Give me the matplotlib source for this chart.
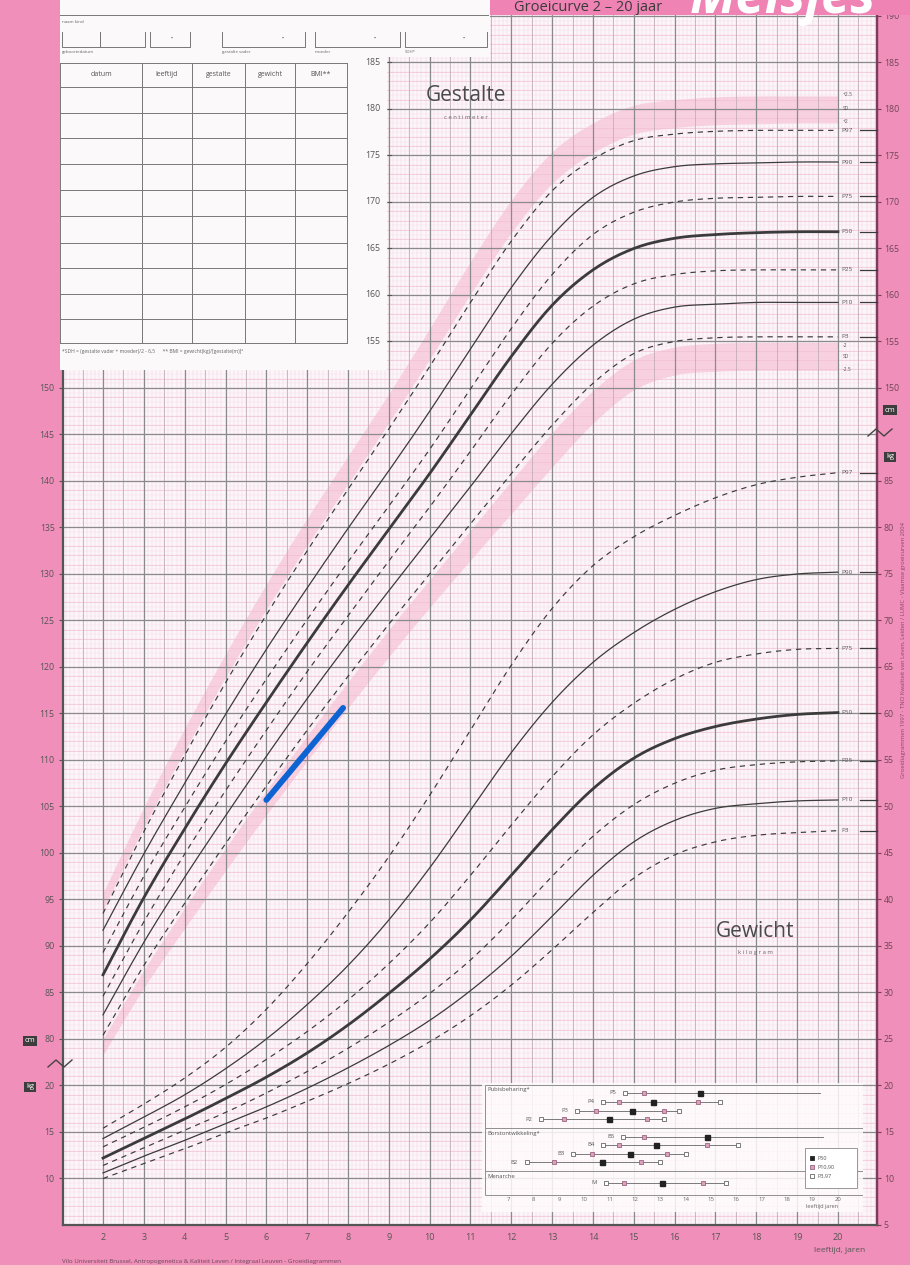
import numpy as np
import matplotlib.pyplot as plt
from matplotlib.patches import Rectangle
from matplotlib.lines import Line2D

plt.rcParams['font.family'] = ['Open Sans', 'DejaVu Sans']

leeftijd = [2, 3, 4, 5, 6, 7, 8, 9, 10, 11, 12, 13, 14, 15, 16, 17, 18, 19, 20]

# gestalte (cm)
h_p97 = [93.5, 102.3, 110.5, 118.3, 125.6, 132.5, 139.1, 145.6, 152.3, 159.2, 165.8, 171.2, 174.6, 176.6, 177.3, 177.6, 177.7, 177.7, 177.7]
h_p90 = [91.7, 99.9, 107.5, 114.9, 121.9, 128.5, 134.9, 141.1, 147.5, 154.2, 160.8, 166.4, 170.5, 172.8, 173.8, 174.1, 174.2, 174.3, 174.3]
h_p75 = [89.3, 97.5, 104.9, 112.0, 118.7, 125.1, 131.3, 137.3, 143.4, 149.9, 156.4, 162.2, 166.5, 168.9, 170.0, 170.4, 170.5, 170.6, 170.6]
h_p50 = [86.9, 95.2, 102.6, 109.6, 116.2, 122.6, 128.8, 134.8, 140.8, 147.1, 153.4, 158.9, 162.7, 165.0, 166.1, 166.5, 166.7, 166.8, 166.8]
h_p25 = [84.6, 92.6, 99.9, 106.7, 113.2, 119.5, 125.5, 131.4, 137.2, 143.2, 149.3, 154.8, 158.8, 161.2, 162.2, 162.6, 162.7, 162.7, 162.7]
h_p10 = [82.6, 90.4, 97.4, 104.0, 110.4, 116.6, 122.5, 128.2, 133.8, 139.4, 145.1, 150.4, 154.6, 157.4, 158.7, 159.0, 159.2, 159.2, 159.2]
h_p3 = [80.4, 87.9, 94.6, 101.0, 107.2, 113.2, 119.0, 124.6, 130.0, 135.4, 140.8, 146.0, 150.5, 153.7, 155.0, 155.4, 155.5, 155.5, 155.5]

# roze banden (+2..+2.5 SD en -2..-2.5 SD)
band_hoog_onder = [93.9, 102.8, 111.0, 118.9, 126.2, 133.1, 139.7, 146.3, 153.1, 160.1, 166.7, 172.0, 175.3, 177.3, 178.0, 178.3, 178.4, 178.5, 178.5]
band_hoog_boven = [95.7, 104.9, 113.4, 121.4, 128.9, 136.0, 142.7, 149.4, 156.4, 163.6, 170.2, 175.4, 178.5, 180.4, 181.0, 181.3, 181.4, 181.4, 181.4]
band_laag_boven = [80.0, 87.4, 94.1, 100.5, 106.7, 112.6, 118.4, 124.0, 129.4, 134.7, 140.0, 145.2, 149.7, 153.0, 154.4, 154.8, 154.9, 154.9, 154.9]
band_laag_onder = [78.3, 85.5, 91.9, 98.1, 104.1, 109.9, 115.6, 121.1, 126.4, 131.5, 136.5, 141.5, 146.2, 149.8, 151.4, 151.8, 151.9, 151.9, 151.9]

# gewicht (kg)
w_p97 = [15.4, 18.0, 20.8, 24.1, 28.2, 33.1, 38.6, 44.6, 51.2, 58.2, 65.2, 71.3, 75.9, 79.0, 81.3, 83.2, 84.6, 85.4, 85.9]
w_p90 = [14.3, 16.6, 19.0, 21.8, 25.0, 28.7, 32.9, 37.8, 43.4, 49.6, 55.8, 61.2, 65.5, 68.7, 71.2, 73.1, 74.4, 75.0, 75.2]
w_p75 = [13.4, 15.5, 17.7, 20.1, 22.8, 25.8, 29.2, 33.1, 37.5, 42.6, 48.0, 53.2, 57.7, 61.1, 63.7, 65.5, 66.4, 66.9, 67.0]
w_p50 = [12.2, 14.3, 16.4, 18.6, 20.9, 23.5, 26.5, 29.9, 33.6, 37.8, 42.6, 47.5, 51.9, 55.2, 57.3, 58.6, 59.4, 59.9, 60.1]
w_p25 = [11.4, 13.3, 15.2, 17.1, 19.2, 21.5, 24.0, 26.8, 29.9, 33.5, 37.8, 42.5, 46.8, 50.2, 52.5, 53.9, 54.5, 54.8, 54.9]
w_p10 = [10.6, 12.4, 14.1, 15.9, 17.7, 19.7, 21.9, 24.3, 27.0, 30.2, 33.9, 38.2, 42.6, 46.2, 48.5, 49.8, 50.3, 50.6, 50.7]
w_p3 = [10.0, 11.6, 13.2, 14.9, 16.5, 18.3, 20.2, 22.3, 24.7, 27.5, 30.8, 34.6, 38.6, 42.3, 44.8, 46.2, 46.9, 47.2, 47.4]

# ingetekende meting (blauw)
blauw_leeftijd = [6.0, 7.88]
blauw_lengte = [105.7, 115.6]

# puberteitsstadia (leeftijd bij P3, P10, P50, P90, P97)
pubis_naam = ['P5', 'P4', 'P3', 'P2']
pubis_p3 = [11.6, 10.75, 9.7, 8.28]
pubis_p10 = [12.35, 11.37, 10.46, 9.2]
pubis_p50 = [14.56, 12.72, 11.9, 10.96]
pubis_p90 = [np.nan, 14.47, 13.14, 12.46]
pubis_p97 = [np.nan, 15.35, 13.74, 13.14]
pubis_eind = [19.3, 15.35, 13.74, 13.14]

borst_naam = ['B5', 'B4', 'B3', 'B2']
borst_p3 = [11.54, 10.75, 9.57, 7.73]
borst_p10 = [12.36, 11.37, 10.29, 8.82]
borst_p50 = [14.83, 12.83, 11.8, 10.69]
borst_p90 = [np.nan, 14.83, 13.25, 12.24]
borst_p97 = [np.nan, 16.08, 14.0, 12.99]
borst_eind = [19.4, 16.08, 14.0, 12.99]

men_p3, men_p10, men_p50, men_p90, men_p97 = 10.84, 11.57, 13.05, 14.67, 15.6

GEW = 55  # kg worden op de cm-schaal getekend met deze verschuiving

W, H = 910, 1265
ROZE = '#f08fb9'
LIJN = '#3b3b3b'
GRIJS = '#555555'


def fx(x):
    return x / W


def fy(y):
    return 1 - y / H


def glad(x, y, n=12):
    x = np.asarray(x, float)
    y = np.asarray(y, float)
    def cr(p):
        p = np.concatenate([[2 * p[0] - p[1]], p, [2 * p[-1] - p[-2]]])
        t = np.linspace(0, 1, n, endpoint=False)[:, None]
        p0, p1, p2, p3 = p[:-3], p[1:-2], p[2:-1], p[3:]
        v = 0.5 * (2 * p1 + (-p0 + p2) * t + (2 * p0 - 5 * p1 + 4 * p2 - p3) * t ** 2
                   + (-p0 + 3 * p1 - 3 * p2 + p3) * t ** 3)
        return np.append(v.T.ravel(), p[-2])
    return cr(x), cr(y)


fig = plt.figure(figsize=(W / 100, H / 100), dpi=100, facecolor=ROZE)
ax = fig.add_axes([fx(63), fy(1225), fx(877) - fx(63), fy(0) - fy(1225)])
ax.set_facecolor('#fbf6f9')
X0, X1, Y0, Y1 = 1.02, 20.956, 60.0, 191.72

# ---- raster ----
ax.vlines(np.arange(1.1, 20.95, 0.1), Y0, Y1, color='#f6d0de', lw=0.35, zorder=0.3)
ax.hlines(np.arange(60.5, 191.7, 0.5), X0, X1, color='#f8dde7', lw=0.3, zorder=0.3)
ax.hlines(np.arange(61, 192, 1.0), X0, X1, color='#f1bdd0', lw=0.45, zorder=0.35)
ax.vlines(np.arange(1.5, 20.6, 1.0), Y0, Y1, color='#bfaab4', lw=0.55, zorder=0.4)
ax.vlines(leeftijd, Y0, Y1, color='#8a8a8a', lw=0.9, zorder=0.5)
ax.hlines(np.arange(65, 191, 5), X0, X1, color='#8a8a8a', lw=0.9, zorder=0.5)

# ---- roze banden ----
bx, b1 = glad(leeftijd, band_hoog_onder)
_, b2 = glad(leeftijd, band_hoog_boven)
ax.fill_between(bx, b1, b2, color='#f8cfdf', lw=0, zorder=0.2)
_, b3 = glad(leeftijd, band_laag_onder)
_, b4 = glad(leeftijd, band_laag_boven)
ax.fill_between(bx, b3, b4, color='#f8cfdf', lw=0, zorder=0.2)


def curve(vals, soort, label, offset=0):
    x, y = glad(leeftijd, np.asarray(vals) + offset)
    if soort == 'dik':
        ax.plot(x, y, color=LIJN, lw=2.0, zorder=3)
    elif soort == 'streep':
        ax.plot(x, y, color=LIJN, lw=0.85, ls=(0, (4.5, 4)), zorder=3)
    else:
        ax.plot(x, y, color=LIJN, lw=0.9, zorder=3)
    yend = vals[-1] + offset
    ax.text(20.08, yend, label, fontsize=4.6, color=GRIJS, va='center', ha='left', zorder=4)
    ax.plot([20.55, X1], [yend, yend], color=LIJN, lw=0.9, zorder=4, clip_on=False)


for vals, soort, lab in [(h_p97, 'streep', 'P97'), (h_p90, 'dun', 'P90'), (h_p75, 'streep', 'P75'),
                         (h_p50, 'dik', 'P50'), (h_p25, 'streep', 'P25'), (h_p10, 'dun', 'P10'),
                         (h_p3, 'streep', 'P3')]:
    curve(vals, soort, lab)

for vals, soort, lab in [(w_p97, 'streep', 'P97'), (w_p90, 'dun', 'P90'), (w_p75, 'streep', 'P75'),
                         (w_p50, 'dik', 'P50'), (w_p25, 'streep', 'P25'), (w_p10, 'dun', 'P10'),
                         (w_p3, 'streep', 'P3')]:
    curve(vals, soort, lab, offset=GEW)

for s, yv in [('+2.5', 181.6), ('SD', 180.1), ('+2', 178.7), ('-2', 154.6), ('SD', 153.4), ('-2.5', 152.0)]:
    ax.text(20.12, yv, s, fontsize=3.6, color=GRIJS, va='center', ha='left', zorder=4)

ax.plot(blauw_leeftijd, blauw_lengte, color='#0d63d2', lw=4.2, solid_capstyle='round', zorder=8)

# ---- assen ----
ax.set_xlim(X0, X1)
ax.set_ylim(Y0, Y1)
ax.set_xticks(leeftijd, [str(a) for a in leeftijd])
ax.tick_params(axis='x', length=0, pad=6, labelsize=6.5, labelcolor=GRIJS)
links_pos = [k + GEW for k in (10, 15, 20)] + list(range(80, 151, 5))
links_lab = ['10', '15', '20'] + [str(c) for c in range(80, 151, 5)]
ax.set_yticks(links_pos, links_lab)
ax.tick_params(axis='y', length=3, width=0.8, color=GRIJS, labelsize=6.3, labelcolor=GRIJS, pad=3)
ax.spines['top'].set_visible(False)
ax.spines['left'].set_color('#555')
ax.spines['left'].set_linewidth(1.6)
ax.spines['bottom'].set_color('#555')
ax.spines['bottom'].set_linewidth(1.6)
ax.spines['right'].set_color('#7a3c58')
ax.spines['right'].set_linewidth(1.6)

sec = ax.secondary_yaxis('right')
rechts_pos = [k + GEW for k in range(5, 86, 5)] + list(range(150, 191, 5))
rechts_lab = [str(k) for k in range(5, 86, 5)] + [str(c) for c in range(150, 191, 5)]
sec.set_yticks(rechts_pos, rechts_lab)
sec.tick_params(length=3, width=0.8, color='#7a3c58', labelsize=6.3, labelcolor='#6e4658', pad=2)
sec.spines['right'].set_color('#7a3c58')
sec.spines['right'].set_linewidth(1.6)


# ---- hulpfuncties in pixelcoordinaten ----
def rect_px(x0, y0, x1, y1, **kw):
    ax.add_patch(Rectangle((fx(x0), fy(y1)), fx(x1) - fx(x0), fy(y0) - fy(y1),
                           transform=fig.transFigure, clip_on=False, **kw))


def lijn_px(xs, ys, **kw):
    ax.add_line(Line2D([fx(v) for v in xs], [fy(v) for v in ys],
                       transform=fig.transFigure, clip_on=False, **kw))


def tekst_px(x, y, s, **kw):
    ax.text(fx(x), fy(y), s, transform=fig.transFigure, clip_on=False, **kw)


# kop
rect_px(488, 0, 910, 15, fc='#ee83b4', ec='none', zorder=5)
tekst_px(514, 7.5, 'Groeicurve 2 – 20 jaar', fontsize=10.5, color='#3a3a3a', va='center', ha='left', zorder=6)
tekst_px(690, 13, 'Meisjes', fontsize=38, color='white', fontweight='bold', fontstyle='italic',
         va='baseline', ha='left', zorder=6)

# wit invulpaneel linksboven
rect_px(60, 0, 387, 370, fc='#fbf9fa', ec='none', zorder=5)
rect_px(387, 0, 490, 57, fc='#fbf9fa', ec='none', zorder=5)
lk = dict(color='#777', lw=0.7, zorder=6)
lijn_px([60, 488], [15, 15], **lk)
tekst_px(62, 22, 'naam kind', fontsize=3.2, color='#666', va='center', zorder=6)
for xa, xb, dot in [(62, 100, None), (100, 145, None), (150, 190, 172), (222, 305, 283), (315, 400, 375), (405, 487, 464)]:
    lijn_px([xa, xa, xb, xb], [32, 47, 47, 32], **lk)
    if dot:
        tekst_px(dot, 38, '•', fontsize=4, color='#444', ha='center', va='center', zorder=6)
for xt, s in [(62, 'geboortedatum'), (222, 'gestalte vader'), (315, 'moeder'), (405, 'SDH*')]:
    tekst_px(xt, 52, s, fontsize=3.2, color='#666', va='center', zorder=6)

kolommen = [60, 142, 192, 245, 295, 347]
rijen = [63, 87, 113, 138, 164, 190, 216, 243, 268, 294, 319, 343]
for xk in kolommen:
    lijn_px([xk, xk], [63, 343], **lk)
for yr in rijen:
    lijn_px([60, 347], [yr, yr], **lk)
for xa, xb, s in zip(kolommen[:-1], kolommen[1:], ['datum', 'leeftijd', 'gestalte', 'gewicht', 'BMI**']):
    tekst_px((xa + xb) / 2, 75, s, fontsize=5, color='#555', ha='center', va='center', zorder=6)
tekst_px(62, 352, '*SDH = (gestalte vader + moeder)/2 - 6,5      ** BMI = gewicht(kg)/[gestalte(m)]²',
         fontsize=3.6, color='#666', va='center', zorder=6)

for c in range(155, 186, 5):
    ax.text(8.6, c, str(c), fontsize=6.3, color=GRIJS, ha='center', va='center', zorder=7)
    ax.plot([8.98, 9.05], [c, c], color=GRIJS, lw=0.8, zorder=7)

# titels
ax.text(10.9, 181.4, 'Gestalte', fontsize=15, color='#4a4a4a', ha='center', va='center', zorder=7)
ax.text(10.9, 179.1, 'c e n t i m e t e r', fontsize=4.3, color='#666', ha='center', va='center', zorder=7)
ax.text(17.97, 91.6, 'Gewicht', fontsize=15, color='#4a4a4a', ha='center', va='center', zorder=7)
ax.text(17.97, 89.3, 'k i l o g r a m', fontsize=4.3, color='#666', ha='center', va='center', zorder=7)

# cm / kg aanduiding
box = dict(boxstyle='square,pad=0.25', fc='#3d3d3d', ec='none')
for xp, yp, s in [(30, 1041, 'cm'), (30, 1087, 'kg'), (890, 410, 'cm'), (890, 457, 'kg')]:
    tekst_px(xp, yp, s, fontsize=5.5, color='white', ha='center', va='center', bbox=box, zorder=9)
lijn_px([48, 56, 64, 72], [1067, 1060, 1067, 1060], color='#444', lw=1.0, zorder=9)
lijn_px([868, 876, 884, 892], [436, 429, 436, 429], color='#444', lw=1.0, zorder=9)

tekst_px(840, 1250, 'leeftijd, jaren', fontsize=6, color=GRIJS, ha='center', va='center', zorder=6)
tekst_px(62, 1261, 'Vilo Universiteit Brussel, Antropogenetica & Kaliteit Leven / Integraal Leuven - Groeidiagrammen',
         fontsize=4.5, color='#6a4a58', ha='left', va='center', zorder=6)
tekst_px(903, 650, 'Groeidiagrammen 1997 - TNO Kwaliteit van Leven, Leiden / LUMC - Vlaamse groeicurven 2004',
         fontsize=4.2, color='#8a4868', rotation=90, ha='center', va='center', zorder=6)

# ---- puberteitsstadia (inzet) ----
ins = fig.add_axes([fx(482), fy(1212), fx(863) - fx(482), fy(1083) - fy(1212)])


def ia(px):
    return 7 + (px - 508.3) / 25.34


ins.set_xlim(ia(482), ia(863))
ins.set_ylim(1212, 1083)
ins.set_facecolor((1, 0.985, 0.99, 0.85))
ins.set_xticks([])
ins.set_yticks([])
for s in ins.spines.values():
    s.set_visible(False)
ins.hlines([1085, 1128, 1171, 1195], ia(485), ia(863), color='#8f8f8f', lw=0.7)
ins.vlines(ia(485), 1085, 1195, color='#8f8f8f', lw=0.7)


def rij(y, naam, p3, p10, p50, p90, p97, eind):
    ins.plot([p3, eind], [y, y], color='#666', lw=0.6, zorder=2)
    ins.plot([p3, p97], [y, y], ls='none', marker='s', ms=3.4, mfc='white', mec='#666', mew=0.6, zorder=3)
    ins.plot([p10, p90], [y, y], ls='none', marker='s', ms=3.4, mfc='#dca0ba', mec='#9a6580', mew=0.6, zorder=3)
    ins.plot([p50], [y], ls='none', marker='s', ms=3.6, mfc='#222', mec='#222', zorder=3)
    ins.text(p3 - 0.35, y, naam, fontsize=4.2, color='#555', ha='right', va='center')


for i, yv in enumerate([1092.7, 1101.7, 1110.7, 1119.3]):
    rij(yv, pubis_naam[i], pubis_p3[i], pubis_p10[i], pubis_p50[i], pubis_p90[i], pubis_p97[i], pubis_eind[i])
for i, yv in enumerate([1136.7, 1145.0, 1153.7, 1162.0]):
    rij(yv, borst_naam[i], borst_p3[i], borst_p10[i], borst_p50[i], borst_p90[i], borst_p97[i], borst_eind[i])
rij(1182.7, 'M', men_p3, men_p10, men_p50, men_p90, men_p97, men_p97)

ins.text(ia(487), 1090, 'Pubisbeharing*', fontsize=4.2, color='#555', va='center')
ins.text(ia(487), 1133, 'Borstontwikkeling*', fontsize=4.2, color='#555', va='center')
ins.text(ia(487), 1177, 'Menarche', fontsize=4.2, color='#555', va='center')
for a in range(7, 21):
    ins.text(a, 1199.5, str(a), fontsize=4.3, color='#666', ha='center', va='center')
ins.text(ia(822), 1206.5, 'leeftijd jaren', fontsize=4, color='#666', ha='center', va='center')

ins.add_patch(Rectangle((ia(805), 1148), ia(857) - ia(805), 40, fc='white', ec='#888', lw=0.6, zorder=4))
for yv, fc, ec, s in [(1158, '#222', '#222', 'P50'), (1167, '#dca0ba', '#9a6580', 'P10,90'), (1176, 'white', '#666', 'P3,97')]:
    ins.plot([ia(812)], [yv], ls='none', marker='s', ms=3.2, mfc=fc, mec=ec, mew=0.6, zorder=5)
    ins.text(ia(818), yv, s, fontsize=4, color='#555', va='center', zorder=5)

ax.set_xlim(X0, X1)
ax.set_ylim(Y0, Y1)
fig.savefig('out.png', dpi=100, facecolor=ROZE)
